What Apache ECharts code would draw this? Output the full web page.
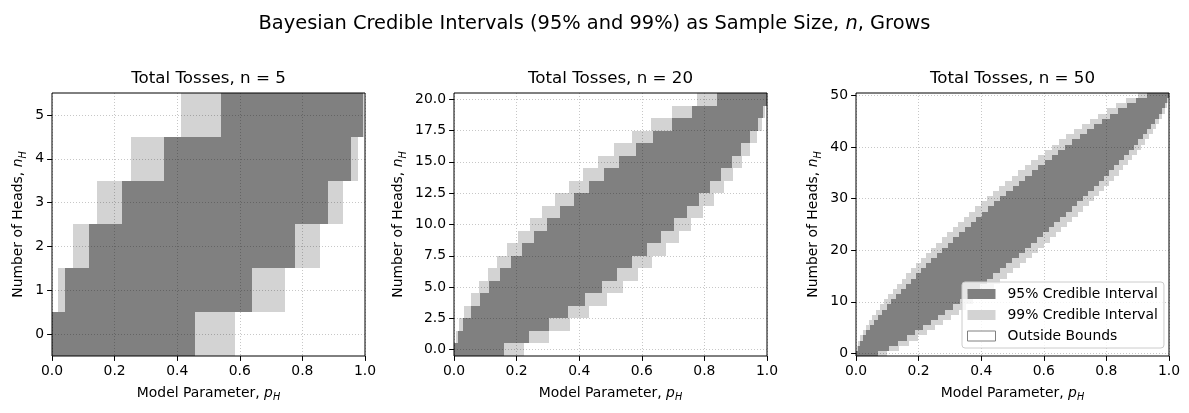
<!DOCTYPE html>
<html>
<head>
<meta charset="utf-8">
<script src="https://cdn.jsdelivr.net/npm/echarts@6/dist/echarts.min.js"></script>
<style>
  html, body { margin: 0; padding: 0; background: #fff; }
  #chart { width: 1189px; height: 413px; }
</style>
</head>
<body>
<div id="chart"></div>
<script>
// total tosses per panel
const tosses = [5, 20, 50];

// n = 5, rows nH = 0..5 : interval bounds on p_H
const n5Lo99 = [0, 0.019, 0.066, 0.143, 0.252, 0.411];
const n5Lo95 = [0, 0.041, 0.117, 0.223, 0.357, 0.539];
const n5Hi95 = [0.458, 0.639, 0.776, 0.882, 0.955, 0.995];
const n5Hi99 = [0.584, 0.744, 0.856, 0.930, 0.978, 0.998];

// n = 20, rows nH = 0..20
const n20Lo99 = [0, 0.0050, 0.0161, 0.0333, 0.0548, 0.0797, 0.1074, 0.1377, 0.1704, 0.2053, 0.2423,
  0.2814, 0.3227, 0.3662, 0.4122, 0.4608, 0.5125, 0.5678, 0.6279, 0.6957, 0.7770];
const n20Lo95 = [0, 0.0118, 0.0297, 0.0538, 0.0816, 0.1123, 0.1455, 0.1808, 0.2180, 0.2570, 0.2977,
  0.3401, 0.3843, 0.4303, 0.4782, 0.5283, 0.5808, 0.6362, 0.6954, 0.7617, 0.8389];
const n20Hi95 = [0.1611, 0.2383, 0.3046, 0.3638, 0.4192, 0.4717, 0.5218, 0.5697, 0.6157, 0.6599, 0.7023,
  0.7430, 0.7820, 0.8192, 0.8545, 0.8877, 0.9184, 0.9462, 0.9703, 0.9882, 0.9988];
const n20Hi99 = [0.2230, 0.3043, 0.3721, 0.4322, 0.4875, 0.5392, 0.5878, 0.6338, 0.6773, 0.7186, 0.7577,
  0.7947, 0.8296, 0.8623, 0.8926, 0.9203, 0.9452, 0.9667, 0.9839, 0.9950, 0.9998];

// n = 50, rows nH = 0..50
const n50Lo99 = [0, 0.0020, 0.0065, 0.0132, 0.0215, 0.0310, 0.0414, 0.0526, 0.0644, 0.0769,
  0.0898, 0.1032, 0.1171, 0.1313, 0.1459, 0.1608, 0.1761, 0.1916, 0.2075, 0.2236,
  0.2401, 0.2567, 0.2737, 0.2909, 0.3084, 0.3262, 0.3441, 0.3624, 0.3809, 0.3997,
  0.4188, 0.4381, 0.4577, 0.4776, 0.4977, 0.5182, 0.5391, 0.5603, 0.5818, 0.6038,
  0.6261, 0.6490, 0.6724, 0.6964, 0.7211, 0.7467, 0.7732, 0.8010, 0.8306, 0.8630, 0.9013];
const n50Lo95 = [0, 0.0048, 0.0119, 0.0215, 0.0323, 0.0442, 0.0568, 0.0700, 0.0838, 0.0981,
  0.1127, 0.1278, 0.1431, 0.1588, 0.1748, 0.1910, 0.2075, 0.2242, 0.2412, 0.2584,
  0.2758, 0.2934, 0.3112, 0.3293, 0.3475, 0.3660, 0.3846, 0.4034, 0.4225, 0.4417,
  0.4611, 0.4808, 0.5007, 0.5208, 0.5411, 0.5617, 0.5826, 0.6036, 0.6250, 0.6468,
  0.6688, 0.6912, 0.7141, 0.7374, 0.7612, 0.7857, 0.8110, 0.8372, 0.8648, 0.8955, 0.9302];
const n50Hi95 = [0.0698, 0.1045, 0.1352, 0.1628, 0.1890, 0.2143, 0.2388, 0.2626, 0.2859, 0.3088,
  0.3312, 0.3532, 0.3750, 0.3964, 0.4174, 0.4383, 0.4589, 0.4792, 0.4993, 0.5192,
  0.5389, 0.5583, 0.5775, 0.5966, 0.6154, 0.6340, 0.6525, 0.6707, 0.6888, 0.7066,
  0.7242, 0.7416, 0.7588, 0.7758, 0.7925, 0.8090, 0.8252, 0.8412, 0.8569, 0.8722,
  0.8873, 0.9019, 0.9162, 0.9300, 0.9432, 0.9558, 0.9677, 0.9785, 0.9881, 0.9952, 0.9995];
const n50Hi99 = [0.0987, 0.1370, 0.1694, 0.1990, 0.2268, 0.2533, 0.2789, 0.3036, 0.3276, 0.3510,
  0.3739, 0.3962, 0.4182, 0.4397, 0.4609, 0.4818, 0.5023, 0.5224, 0.5423, 0.5619,
  0.5812, 0.6003, 0.6191, 0.6376, 0.6559, 0.6738, 0.6916, 0.7091, 0.7263, 0.7433,
  0.7599, 0.7764, 0.7925, 0.8084, 0.8239, 0.8392, 0.8541, 0.8687, 0.8829, 0.8968,
  0.9102, 0.9231, 0.9356, 0.9474, 0.9586, 0.9690, 0.9785, 0.9868, 0.9935, 0.9980, 0.9999];

// tick labels
const pTicks = [0, 0.2, 0.4, 0.6, 0.8, 1.0];
const n5Ticks = [0, 1, 2, 3, 4, 5];
const n20Ticks = [0, 2.5, 5, 7.5, 10, 12.5, 15, 17.5, 20];
const n50Ticks = [0, 10, 20, 30, 40, 50];

const panels = [
  { n: tosses[0], lo99: n5Lo99, lo95: n5Lo95, hi95: n5Hi95, hi99: n5Hi99, ticks: n5Ticks, fmt: v => String(v), nameGap: 24 },
  { n: tosses[1], lo99: n20Lo99, lo95: n20Lo95, hi95: n20Hi95, hi99: n20Hi99, ticks: n20Ticks, fmt: v => v.toFixed(1), nameGap: 46 },
  { n: tosses[2], lo99: n50Lo99, lo95: n50Lo95, hi95: n50Hi95, hi99: n50Hi99, ticks: n50Ticks, fmt: v => String(v), nameGap: 33 },
];

const FONT = '"DejaVu Sans", Verdana, sans-serif';
const DARK = '#808080';
const LIGHT = '#d3d3d3';
const GRIDLINE = { color: 'rgba(0,0,0,0.28)', width: 0.8, type: [1, 2] };
const lefts = [52, 454, 856];

const subRich = {
  i: { fontStyle: 'italic', fontSize: 13.9, fontFamily: FONT, color: '#000' },
  s: { fontStyle: 'italic', fontSize: 9.7, fontFamily: FONT, color: '#000', verticalAlign: 'bottom', lineHeight: 11 }
};

// one rectangle per row, from lo to hi across nH - 0.5 .. nH + 0.5
function renderCell(params, api) {
  const a = api.coord([api.value(0), api.value(2) - 0.5]);
  const b = api.coord([api.value(1), api.value(2) + 0.5]);
  const x0 = Math.round(a[0]), x1 = Math.round(b[0]);
  const y0 = Math.round(b[1]), y1 = Math.round(a[1]);
  return {
    type: 'rect',
    shape: { x: x0, y: y0, width: x1 - x0, height: y1 - y0 },
    style: { fill: api.visual('color') }
  };
}

const grid = [], xAxis = [], yAxis = [], series = [], graphic = [];

panels.forEach((pn, i) => {
  grid.push({
    left: lefts[i], top: 93, width: 313, height: 263,
    show: true, borderColor: '#000', borderWidth: 1, z: 10
  });
  graphic.push({
    type: 'text', x: lefts[i] + 156.5, y: 79,
    style: { text: 'Total Tosses, n = ' + pn.n, fill: '#000', fontSize: 16.7, fontFamily: FONT,
      textAlign: 'center', textVerticalAlign: 'middle' }
  });
  xAxis.push({
    gridIndex: i, type: 'value', min: 0, max: 1, interval: 0.2, z: 6,
    name: 'Model Parameter, {i|p}{s|H}', nameLocation: 'middle', nameGap: 24,
    nameTextStyle: { fontSize: 13.9, fontFamily: FONT, color: '#000', lineHeight: 20, rich: subRich },
    axisLine: { show: false, onZero: false },
    axisTick: { show: true, length: 4.9, lineStyle: { color: '#000', width: 1 } },
    axisLabel: { color: '#000', fontSize: 13.9, fontFamily: FONT, margin: 8, formatter: v => v.toFixed(1) },
    splitLine: { show: true, lineStyle: GRIDLINE }
  });
  yAxis.push({
    gridIndex: i, type: 'value', min: -0.5, max: pn.n + 0.5, z: 6,
    name: 'Number of Heads, {i|n}{s|H}', nameLocation: 'middle', nameGap: pn.nameGap,
    nameTextStyle: { fontSize: 13.9, fontFamily: FONT, color: '#000', lineHeight: 20, rich: subRich },
    axisLine: { show: false, onZero: false },
    axisTick: { show: true, length: 4.9, customValues: pn.ticks, lineStyle: { color: '#000', width: 1 } },
    axisLabel: { color: '#000', fontSize: 13.9, fontFamily: FONT, margin: 8, customValues: pn.ticks, formatter: pn.fmt },
    splitLine: { show: true, lineStyle: GRIDLINE }
  });
  const rows99 = pn.lo99.map((lo, k) => [lo, pn.hi99[k], k]);
  const rows95 = pn.lo95.map((lo, k) => [lo, pn.hi95[k], k]);
  series.push({
    name: '99% Credible Interval', type: 'custom', xAxisIndex: i, yAxisIndex: i,
    renderItem: renderCell, itemStyle: { color: LIGHT }, encode: { x: [0, 1], y: 2 },
    data: rows99, z: 2, silent: true
  });
  series.push({
    name: '95% Credible Interval', type: 'custom', xAxisIndex: i, yAxisIndex: i,
    renderItem: renderCell, itemStyle: { color: DARK }, encode: { x: [0, 1], y: 2 },
    data: rows95, z: 3, silent: true
  });
});

series.push({
  name: 'Outside Bounds', type: 'custom', xAxisIndex: 2, yAxisIndex: 2,
  renderItem: () => null, itemStyle: { color: '#fff', borderColor: '#808080', borderWidth: 1 }, data: []
});

const chart = echarts.init(document.getElementById('chart'), null, { renderer: 'canvas' });
chart.setOption({
  animation: false,
  backgroundColor: '#fff',
  title: {
    text: 'Bayesian Credible Intervals (95% and 99%) as Sample Size, {i|n}, Grows',
    left: 'center', top: 9,
    textStyle: {
      fontSize: 19.4, fontWeight: 'normal', fontFamily: FONT, color: '#000',
      rich: { i: { fontStyle: 'italic', fontSize: 19.4, fontFamily: FONT, color: '#000' } }
    }
  },
  legend: {
    orient: 'vertical', left: 962, top: 282, z: 20,
    itemWidth: 28, itemHeight: 10, itemGap: 7,
    padding: [5, 6, 5, 5],
    backgroundColor: 'rgba(255,255,255,0.8)', borderColor: '#cccccc', borderWidth: 1, borderRadius: 3,
    textStyle: { fontSize: 13.9, fontFamily: FONT, color: '#000', padding: [0, 0, 0, 7] },
    selectedMode: false,
    data: [
      { name: '95% Credible Interval', icon: 'rect', itemStyle: { color: DARK, borderWidth: 0 } },
      { name: '99% Credible Interval', icon: 'rect', itemStyle: { color: LIGHT, borderWidth: 0 } },
      { name: 'Outside Bounds', icon: 'rect', itemStyle: { color: '#fff', borderColor: '#808080', borderWidth: 1 } }
    ]
  },
  grid, xAxis, yAxis, series, graphic
});
</script>
</body>
</html>
